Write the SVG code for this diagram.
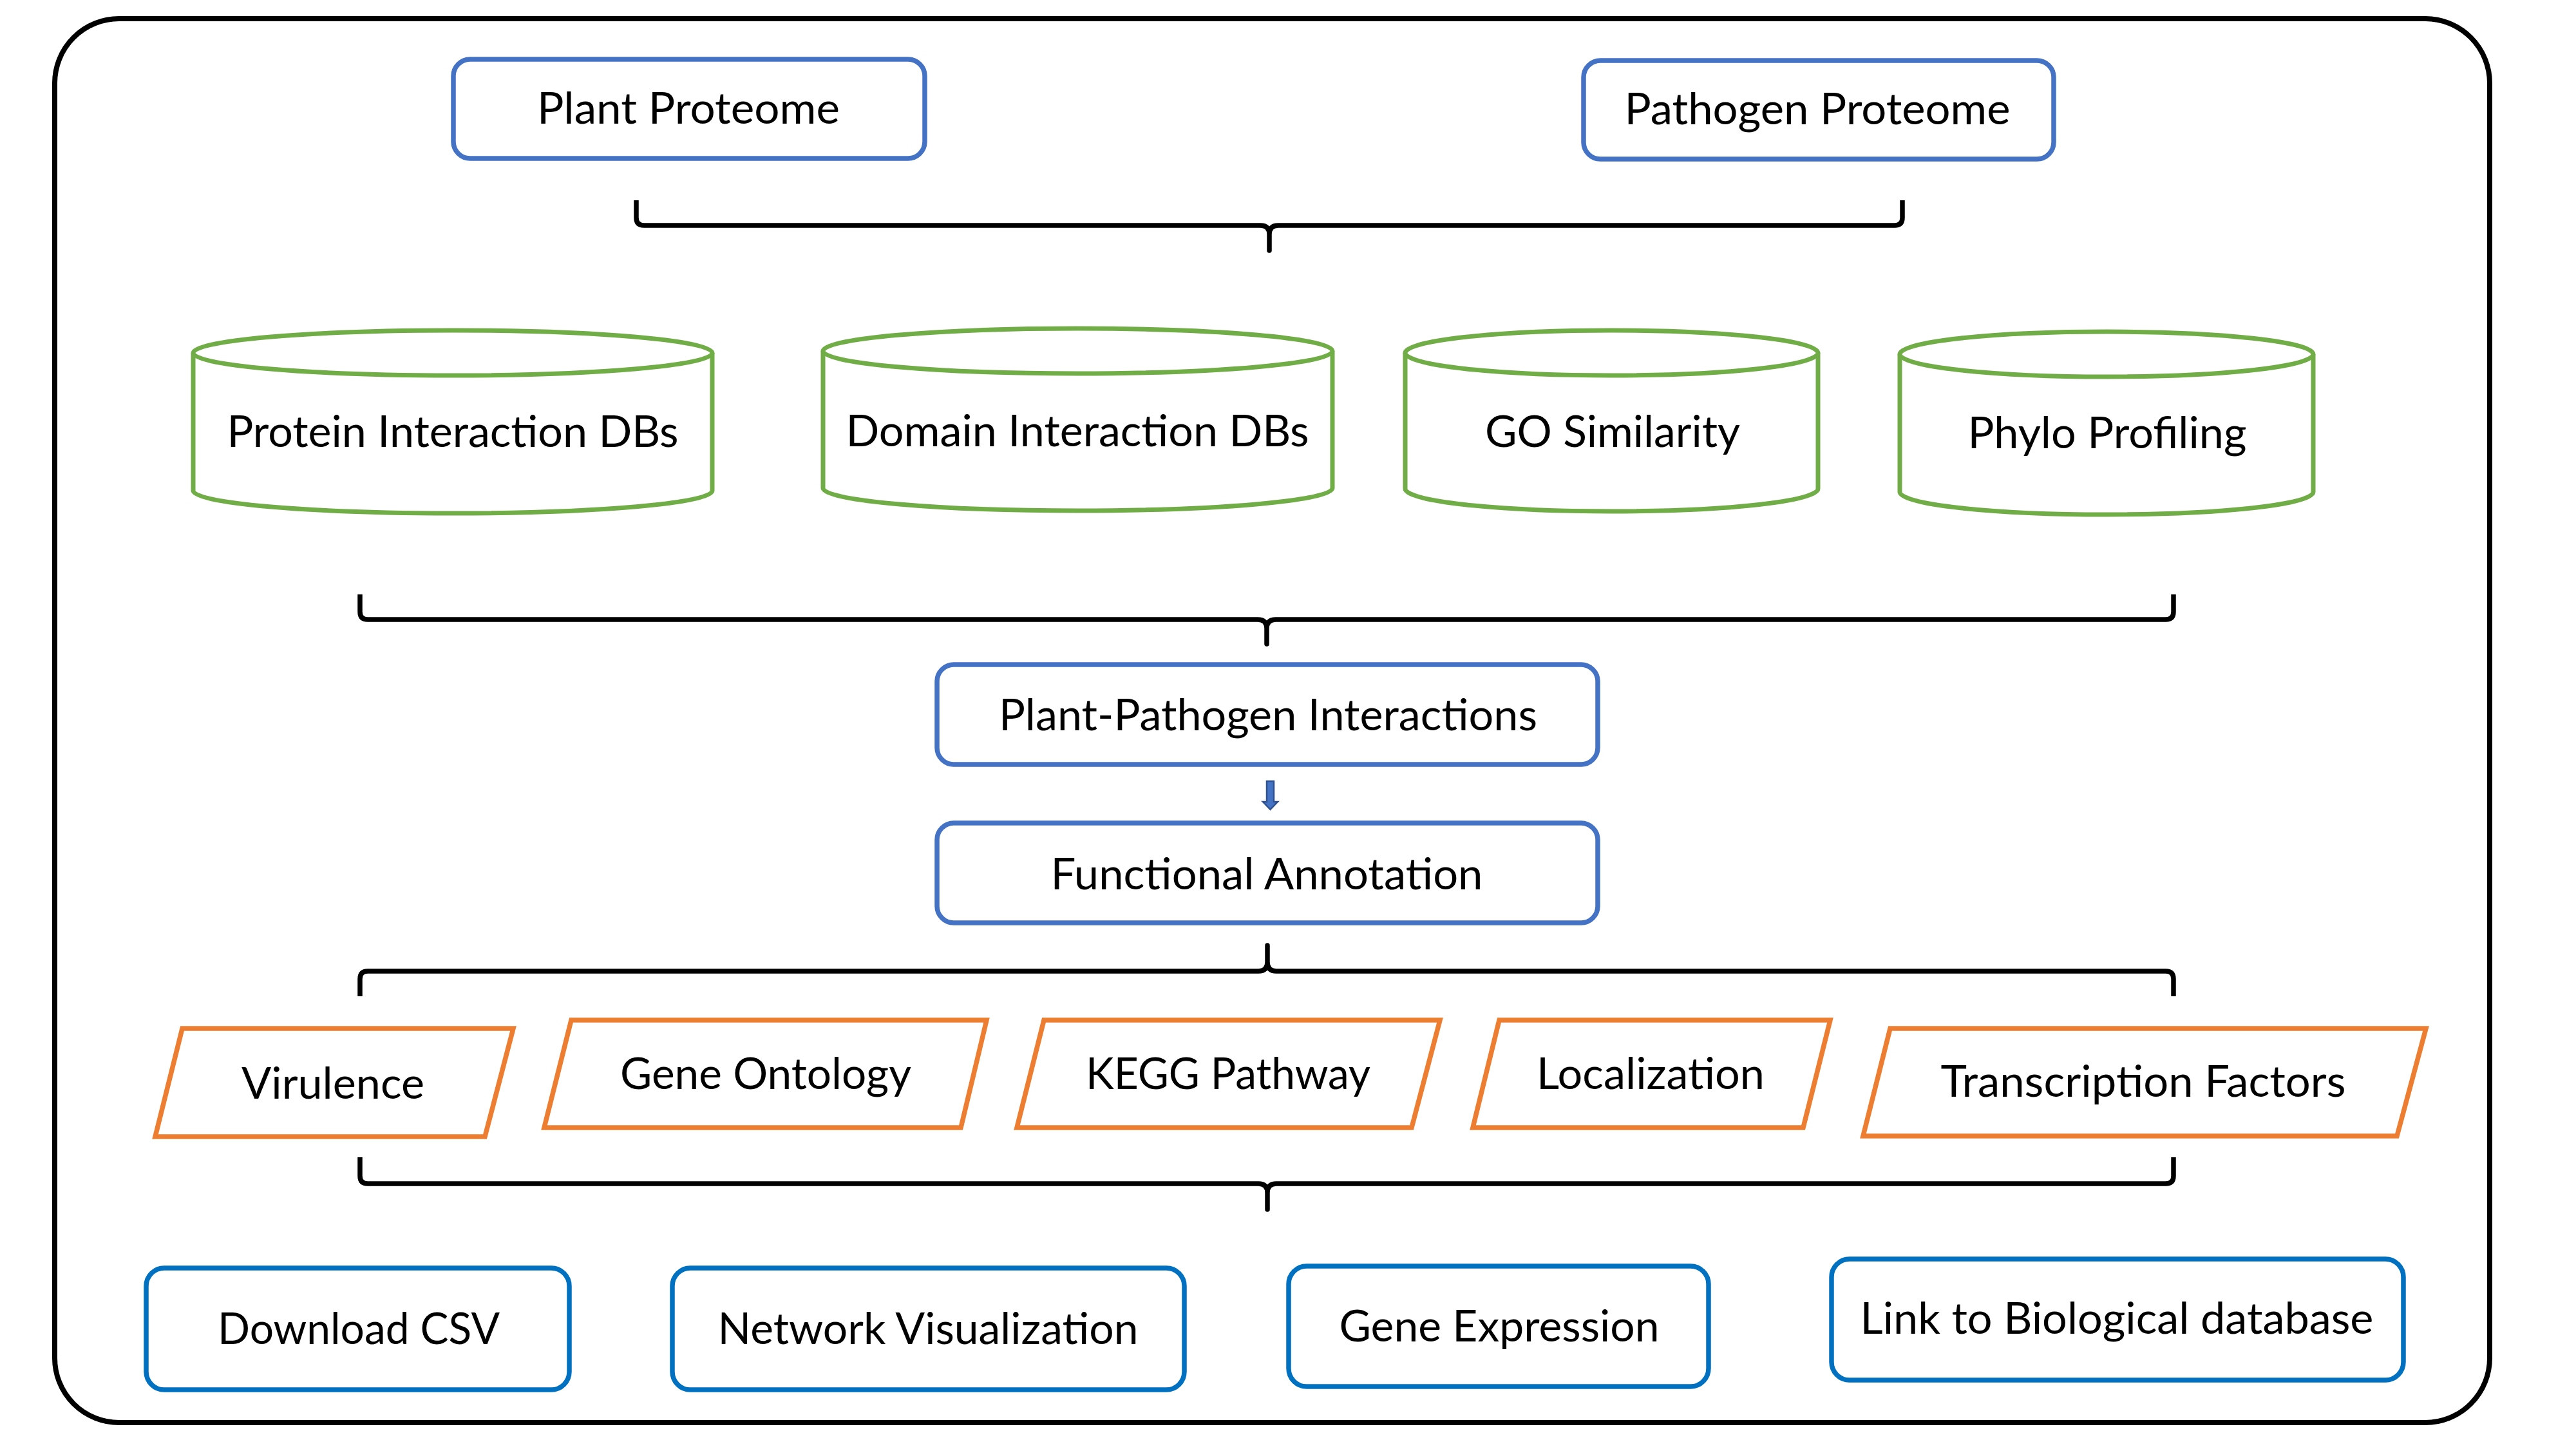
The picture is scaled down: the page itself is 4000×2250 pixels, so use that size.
<svg xmlns="http://www.w3.org/2000/svg" width="4000" height="2250" viewBox="0 0 4000 2250">
<style>
text{font-family:Lato,"Open Sans","Liberation Sans",sans-serif;font-size:67px;fill:#000;text-anchor:middle}
.frame{fill:#fff;stroke:#000;stroke-width:8}
.bx1{fill:#fff;stroke:#4472C4;stroke-width:7.5}
.bx2{fill:#fff;stroke:#0070C0;stroke-width:7.5}
.cyl{fill:#fff;stroke:#70AD47;stroke-width:7}
.par{fill:#fff;stroke:#ED7D31;stroke-width:7.5}
.brace{fill:none;stroke:#000;stroke-width:7.5;stroke-linejoin:round;stroke-linecap:butt}
</style>
<rect class="frame" x="85" y="29" width="3781" height="2180" rx="100" ry="100"/>
<g id="connectors">
<path class="brace" d="M988,311 L988,338 Q988,350 1000,350 L1957,350 Q1971,350 1971,364 L1971,389 L1971,364 Q1971,350 1985,350 L2942,350 Q2954,350 2954,338 L2954,311"/>
<path class="brace" d="M559,923 L559,950 Q559,962 571,962 L1953,962 Q1967,962 1967,976 L1967,1000 L1967,976 Q1967,962 1981,962 L3363,962 Q3375,962 3375,950 L3375,923"/>
<path class="brace" d="M559,1547 L559,1520 Q559,1508 571,1508 L1954,1508 Q1968,1508 1968,1494 L1968,1468 L1968,1494 Q1968,1508 1982,1508 L3363,1508 Q3375,1508 3375,1520 L3375,1547"/>
<path class="brace" d="M559,1797 L559,1826 Q559,1838 571,1838 L1954,1838 Q1968,1838 1968,1852 L1968,1878 L1968,1852 Q1968,1838 1982,1838 L3363,1838 Q3375,1838 3375,1826 L3375,1797"/>
<polygon points="1967,1213 1978,1213 1978,1245 1984,1245 1972.5,1257 1961,1245 1967,1245" fill="#4472C4" stroke="#2F528F" stroke-width="2.5"/>
</g>
<g id="plant-proteome"><rect class="bx1" x="704" y="92" width="732" height="154" rx="26"/><text x="1069" y="192" textLength="470" lengthAdjust="spacingAndGlyphs">Plant Proteome</text></g>
<g id="pathogen-proteome"><rect class="bx1" x="2459" y="94" width="730" height="153" rx="26"/><text x="2822" y="193" textLength="599" lengthAdjust="spacingAndGlyphs">Pathogen Proteome</text></g>
<g id="protein-db"><path class="cyl" d="M300,548 L300,762 A403,35 0 0 0 1106,762 L1106,548"/><ellipse class="cyl" cx="703" cy="548" rx="403" ry="35"/><text x="703" y="694" textLength="701" lengthAdjust="spacingAndGlyphs">Protein Interaction DBs</text></g>
<g id="domain-db"><path class="cyl" d="M1278,545 L1278,758 A395.5,35 0 0 0 2069,758 L2069,545"/><ellipse class="cyl" cx="1673.5" cy="545" rx="395.5" ry="35"/><text x="1673" y="693" textLength="719" lengthAdjust="spacingAndGlyphs">Domain Interaction DBs</text></g>
<g id="go-similarity"><path class="cyl" d="M2182,548 L2182,759 A320.5,35 0 0 0 2823,759 L2823,548"/><ellipse class="cyl" cx="2502.5" cy="548" rx="320.5" ry="35"/><text x="2504" y="694" textLength="396" lengthAdjust="spacingAndGlyphs">GO Similarity</text></g>
<g id="phylo-profiling"><path class="cyl" d="M2950,550 L2950,764 A321,35 0 0 0 3592,764 L3592,550"/><ellipse class="cyl" cx="3271" cy="550" rx="321" ry="35"/><text x="3272" y="696" textLength="433" lengthAdjust="spacingAndGlyphs">Phylo Profiling</text></g>
<g id="ppi"><rect class="bx1" x="1455" y="1032" width="1026" height="155" rx="26"/><text x="1969" y="1134" textLength="836" lengthAdjust="spacingAndGlyphs">Plant-Pathogen Interactions</text></g>
<g id="functional-annotation"><rect class="bx1" x="1455" y="1278" width="1026" height="155" rx="26"/><text x="1967" y="1381" textLength="671" lengthAdjust="spacingAndGlyphs">Functional Annotation</text></g>
<g id="virulence"><polygon class="par" points="283,1597 797,1597 753,1765 241,1765"/><text x="517" y="1706" textLength="284" lengthAdjust="spacingAndGlyphs">Virulence</text></g>
<g id="gene-ontology"><polygon class="par" points="887,1584 1532,1584 1492,1751 845,1751"/><text x="1189" y="1691" textLength="452" lengthAdjust="spacingAndGlyphs">Gene Ontology</text></g>
<g id="kegg"><polygon class="par" points="1621,1584 2236,1584 2192,1751 1579,1751"/><text x="1907" y="1691" textLength="442" lengthAdjust="spacingAndGlyphs">KEGG Pathway</text></g>
<g id="localization"><polygon class="par" points="2328,1584 2842,1584 2800,1751 2287,1751"/><text x="2563" y="1691" textLength="354" lengthAdjust="spacingAndGlyphs">Localization</text></g>
<g id="transcription-factors"><polygon class="par" points="2935,1597 3767,1597 3722,1764 2893,1764"/><text x="3328" y="1703" textLength="629" lengthAdjust="spacingAndGlyphs">Transcription Factors</text></g>
<g id="download-csv"><rect class="bx2" x="227" y="1969" width="657" height="189" rx="28"/><text x="557" y="2087" textLength="438" lengthAdjust="spacingAndGlyphs">Download CSV</text></g>
<g id="network-visualization"><rect class="bx2" x="1044" y="1969" width="795" height="189" rx="28"/><text x="1441" y="2087" textLength="653" lengthAdjust="spacingAndGlyphs">Network Visualization</text></g>
<g id="gene-expression"><rect class="bx2" x="2001" y="1966" width="652" height="187" rx="28"/><text x="2328" y="2083" textLength="497" lengthAdjust="spacingAndGlyphs">Gene Expression</text></g>
<g id="link-bio-db"><rect class="bx2" x="2844" y="1955" width="888" height="188" rx="28"/><text x="3287" y="2071" textLength="797" lengthAdjust="spacingAndGlyphs">Link to Biological database</text></g>
</svg>
